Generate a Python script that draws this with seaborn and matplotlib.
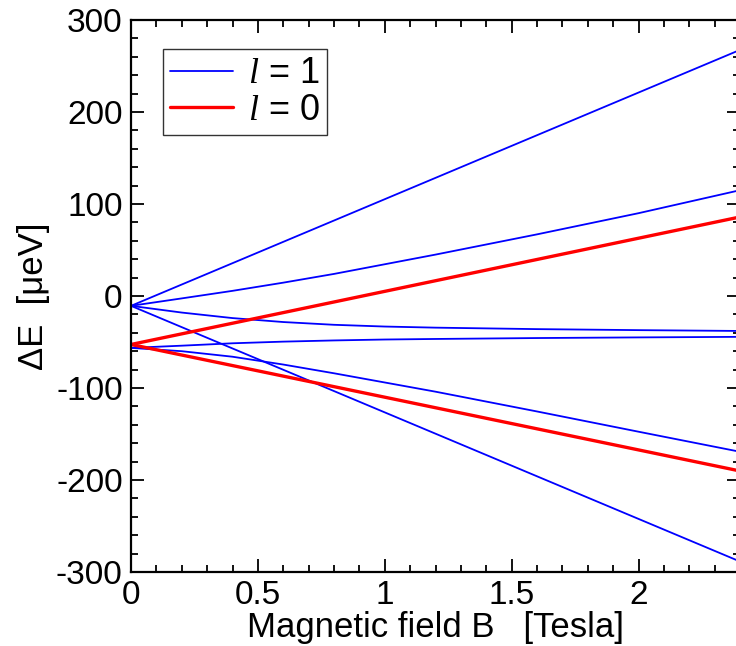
import matplotlib
matplotlib.use("Agg")
import matplotlib.pyplot as plt
from matplotlib.ticker import MultipleLocator
import seaborn as sns
import pandas as pd

# Field grid for the bent (mixed) levels and end points for the straight ones
B_grid = [0.0, 0.2, 0.4, 0.6, 0.8, 1.0, 1.2, 1.6, 2.0, 2.4]
B_ends = [0.0, 2.4]

# l = 1 levels (ΔE in μeV)
l1_top = [-10.7, 267.5]
l1_upper = [-10.7, -2.6, 5.6, 14.5, 24.0, 34.5, 45.0, 67.0, 90.0, 115.0]
l1_bend_down = [-10.7, -18.0, -24.0, -28.3, -31.3, -33.2, -34.4, -36.0, -37.1, -38.0]
l1_steep = [-10.7, -288.6]
l1_bend_up = [-56.4, -54.0, -51.4, -49.6, -48.3, -47.3, -46.7, -45.7, -45.0, -44.4]
l1_lower = [-56.4, -60.0, -66.0, -74.5, -84.0, -94.0, -104.0, -125.5, -147.5, -169.3]

# l = 0 levels
l0_up = [-52.7, 85.9]
l0_down = [-52.7, -190.2]

sns.set_theme(style="ticks")
plt.rcParams["font.family"] = ["Liberation Sans", "DejaVu Sans"]
plt.rcParams["mathtext.fontset"] = "custom"
plt.rcParams["mathtext.it"] = "Liberation Serif:italic"
plt.rcParams["mathtext.rm"] = "Liberation Sans"
plt.rcParams["axes.unicode_minus"] = False
plt.rcParams["text.color"] = "black"
plt.rcParams["axes.labelcolor"] = "black"

fig = plt.figure(figsize=(7.36, 6.46), dpi=100)
ax = fig.add_axes([131 / 736, 74 / 646, 609 / 736, 552 / 646])

blue = "#0000ff"
red = "#ff0000"

l1_series = [
    (B_ends, l1_top),
    (B_grid, l1_upper),
    (B_grid, l1_bend_down),
    (B_ends, l1_steep),
    (B_grid, l1_bend_up),
    (B_grid, l1_lower),
]
for i, (bx, ey) in enumerate(l1_series):
    df = pd.DataFrame({"B": bx, "E": ey})
    sns.lineplot(data=df, x="B", y="E", ax=ax, color=blue, linewidth=1.3,
                 label=r"$l$ = 1" if i == 0 else None, legend=False)

for i, ey in enumerate([l0_up, l0_down]):
    df = pd.DataFrame({"B": B_ends, "E": ey})
    sns.lineplot(data=df, x="B", y="E", ax=ax, color=red, linewidth=2.4,
                 label=r"$l$ = 0" if i == 0 else None, legend=False)

ax.set_xlim(0, 2.4)
ax.set_ylim(-300, 300)
ax.xaxis.set_major_locator(MultipleLocator(0.5))
ax.xaxis.set_minor_locator(MultipleLocator(0.1))
ax.yaxis.set_major_locator(MultipleLocator(100))
ax.yaxis.set_minor_locator(MultipleLocator(20))
ax.set_xticks([0, 0.5, 1, 1.5, 2])
ax.set_xticklabels(["0", "0.5", "1", "1.5", "2"])

ax.tick_params(which="both", direction="in", top=True, right=True,
               labelsize=24, width=1.3, colors="black")
ax.tick_params(which="major", length=9.5, pad=6)
ax.tick_params(which="minor", length=5)
for s in ax.spines.values():
    s.set_linewidth(1.6)
    s.set_color("black")

ax.set_xlabel("Magnetic field B   [Tesla]", fontsize=25, labelpad=0)
ax.set_ylabel("ΔE  [μeV]", fontsize=25, labelpad=4)

leg = ax.legend(loc="upper left", bbox_to_anchor=(0.0525, 0.9475),
                borderaxespad=0, fontsize=26, frameon=True, fancybox=False,
                handlelength=1.75, handletextpad=0.4, borderpad=0.2,
                labelspacing=0.05)
leg.get_frame().set_edgecolor("black")
leg.get_frame().set_linewidth(1.0)

fig.savefig("out.png", dpi=100)
